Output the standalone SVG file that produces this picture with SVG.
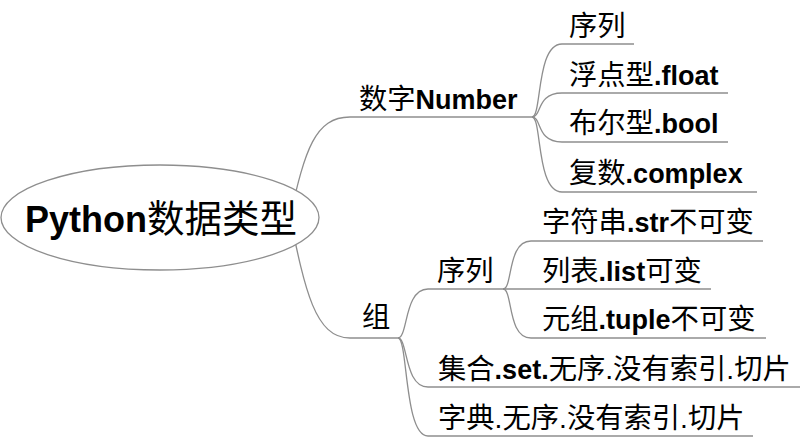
<svg xmlns="http://www.w3.org/2000/svg" width="801" height="437" viewBox="0 0 801 437">
<style>
.ln{fill:none;stroke:#8e8e8e;stroke-width:1.3}
.t{font-family:"Liberation Sans","Noto Sans CJK SC",sans-serif;font-size:28.3px;fill:#000}
.b{font-weight:bold;font-size:27px}
.r{font-family:"Liberation Sans","Noto Sans CJK SC",sans-serif;font-size:37.5px;fill:#000}
.rb{font-weight:bold;font-size:36px}
</style>
<rect width="801" height="437" fill="#fff"/>
<g id="connectors">
<path class="ln" d="M290,217 C305,150 315,117 350,117 L532,117"/>
<path class="ln" d="M290,217 C305,290 315,338 350,338 L398,338"/>
<path class="ln" d="M532,117 C542,117 536,44 562,44 L634,44"/>
<path class="ln" d="M532,117 C542,117 536,93 562,93 L728,93"/>
<path class="ln" d="M532,117 C542,117 536,142 562,142 L728,142"/>
<path class="ln" d="M532,117 C542,117 536,192 562,192 L757,192"/>
<path class="ln" d="M398,338 C408,338 404,289 428,289 L503,289"/>
<path class="ln" d="M398,338 C408,338 404,387 428,387 L800,387"/>
<path class="ln" d="M398,338 C408,338 404,436 428,436 L753,436"/>
<path class="ln" d="M503,289 C513,289 507,241 531,241 L763,241"/>
<path class="ln" d="M503,289 L711,289"/>
<path class="ln" d="M503,289 C513,289 507,338 531,338 L766,338"/>
</g>
<g id="root">
<ellipse cx="160" cy="217.5" rx="159" ry="52.5" fill="#fff" stroke="#8e8e8e" stroke-width="1.3"/>
<text class="r" x="25" y="232"><tspan class="rb">Python</tspan>数据类型</text>
</g>
<g id="n-number"><text class="t" x="359" y="109">数字<tspan class="b">Number</tspan></text></g>
<g id="n-seq1"><text class="t" x="569" y="36">序列</text></g>
<g id="n-float"><text class="t" x="569" y="85">浮点型<tspan class="b">.float</tspan></text></g>
<g id="n-bool"><text class="t" x="569" y="133">布尔型<tspan class="b">.bool</tspan></text></g>
<g id="n-complex"><text class="t" x="569" y="183">复数<tspan class="b">.complex</tspan></text></g>
<g id="n-group"><text class="t" x="362" y="327">组</text></g>
<g id="n-seq2"><text class="t" x="437" y="281">序列</text></g>
<g id="n-str"><text class="t" x="542" y="232">字符串<tspan class="b">.str</tspan>不可变</text></g>
<g id="n-list"><text class="t" x="542" y="281">列表<tspan class="b">.list</tspan>可变</text></g>
<g id="n-tuple"><text class="t" x="542" y="329">元组<tspan class="b">.tuple</tspan>不可变</text></g>
<g id="n-set"><text class="t" x="438" y="379">集合<tspan class="b">.set.</tspan>无序.没有索引.切片</text></g>
<g id="n-dict"><text class="t" x="438" y="428">字典.无序.没有索引.切片</text></g>
</svg>
